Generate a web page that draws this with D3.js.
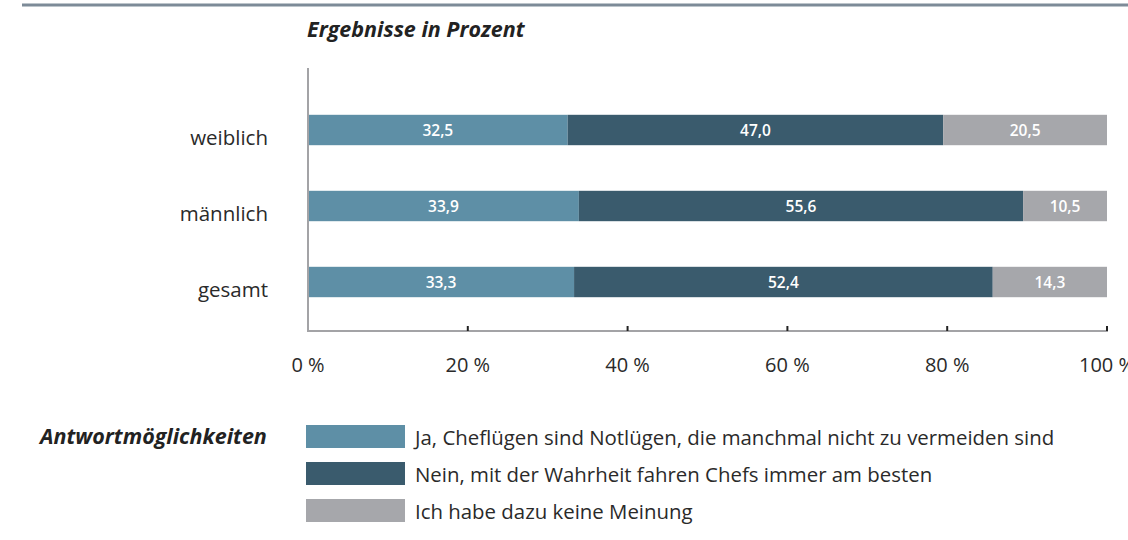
<!DOCTYPE html>
<html lang="de">
<head>
    <meta charset="UTF-8">
    <script src="https://d3js.org/d3.v7.min.js"></script>
    <title>Cheflügen</title>
    <style>
        body { margin: 0; background: #fff; }
        text { font-family: 'Open Sans', sans-serif; }
        text.cat { fill: #2a2a2a; font-size: 20.5px; text-anchor: end; }
        text.tick { fill: #2a2a2a; font-size: 20px; text-anchor: middle; }
        text.val { fill: #fff; font-size: 15.5px; font-weight: 600; text-anchor: middle; }
        text.head { fill: #222; font-size: 21.5px; font-weight: bold; font-style: italic; }
        text.leg { fill: #2a2a2a; font-size: 20.4px; }
    </style>
</head>
<body>
<svg height="540" width="1128"></svg>
<script>
    // data
    const categories = ["weiblich", "männlich", "gesamt"];
    const ja     = [32.5, 33.9, 33.3];
    const nein   = [47.0, 55.6, 52.4];
    const keine  = [20.5, 10.5, 14.3];
    const seriesNames = [
        "Ja, Cheflügen sind Notlügen, die manchmal nicht zu vermeiden sind",
        "Nein, mit der Wahrheit fahren Chefs immer am besten",
        "Ich habe dazu keine Meinung"
    ];
    const tickValues = [0, 20, 40, 60, 80, 100];
    const colors = ["#5e8fa6", "#3a5b6d", "#a6a7ab"];

    const svg = d3.select("svg");
    const x = d3.scaleLinear().domain([0, 100]).range([308, 1107]);
    const y = d3.scaleBand().domain(categories).range([92, 320]).paddingInner(0.6).paddingOuter(0.3);

    // top rule
    svg.append("line").attr("x1", 22).attr("x2", 1128).attr("y1", 5).attr("y2", 5)
        .attr("stroke", "#7d8b98").attr("stroke-width", 3);

    svg.append("text").attr("class", "head").attr("x", 307).attr("y", 37).text("Ergebnisse in Prozent");

    const rows = categories.map((c, i) => ({cat: c, vals: [ja[i], nein[i], keine[i]]}));
    const g = svg.append("g");
    rows.forEach(r => {
        let acc = 0;
        r.vals.forEach((v, k) => {
            const x0 = x(acc), x1 = x(acc + v);
            g.append("rect").attr("x", x0).attr("y", y(r.cat))
                .attr("width", x1 - x0).attr("height", y.bandwidth())
                .attr("fill", colors[k]);
            g.append("text").attr("class", "val")
                .attr("x", (x0 + x1) / 2).attr("y", y(r.cat) + y.bandwidth() / 2 + 5.5)
                .text(d3.format(".1f")(v).replace(".", ","));
            acc += v;
        });
        g.append("text").attr("class", "cat").attr("x", 268)
            .attr("y", y(r.cat) + y.bandwidth()).text(r.cat);
    });

    // axes
    const axisY = 331;
    svg.append("line").attr("x1", 308).attr("x2", 308).attr("y1", 68).attr("y2", axisY)
        .attr("stroke", "#a3a3a6").attr("stroke-width", 2);
    svg.append("line").attr("x1", 307).attr("x2", 1108).attr("y1", axisY).attr("y2", axisY)
        .attr("stroke", "#a3a3a6").attr("stroke-width", 2);
    svg.selectAll("line.tk").data(tickValues.slice(1)).enter().append("line")
        .attr("x1", x).attr("x2", x).attr("y1", axisY - 5).attr("y2", axisY)
        .attr("stroke", "#222").attr("stroke-width", 2);
    svg.selectAll("text.tick").data(tickValues).enter().append("text")
        .attr("class", "tick").attr("x", x).attr("y", 372)
        .text(d => d + " %");

    // legend
    svg.append("text").attr("class", "head").attr("x", 40).attr("y", 444).text("Antwortmöglichkeiten");
    const legY = [425, 462, 499];
    seriesNames.forEach((n, k) => {
        svg.append("rect").attr("x", 306).attr("y", legY[k]).attr("width", 99).attr("height", 23)
            .attr("fill", colors[k]);
        svg.append("text").attr("class", "leg").attr("x", 415).attr("y", legY[k] + 20).text(n);
    });
</script>
</body>
</html>
